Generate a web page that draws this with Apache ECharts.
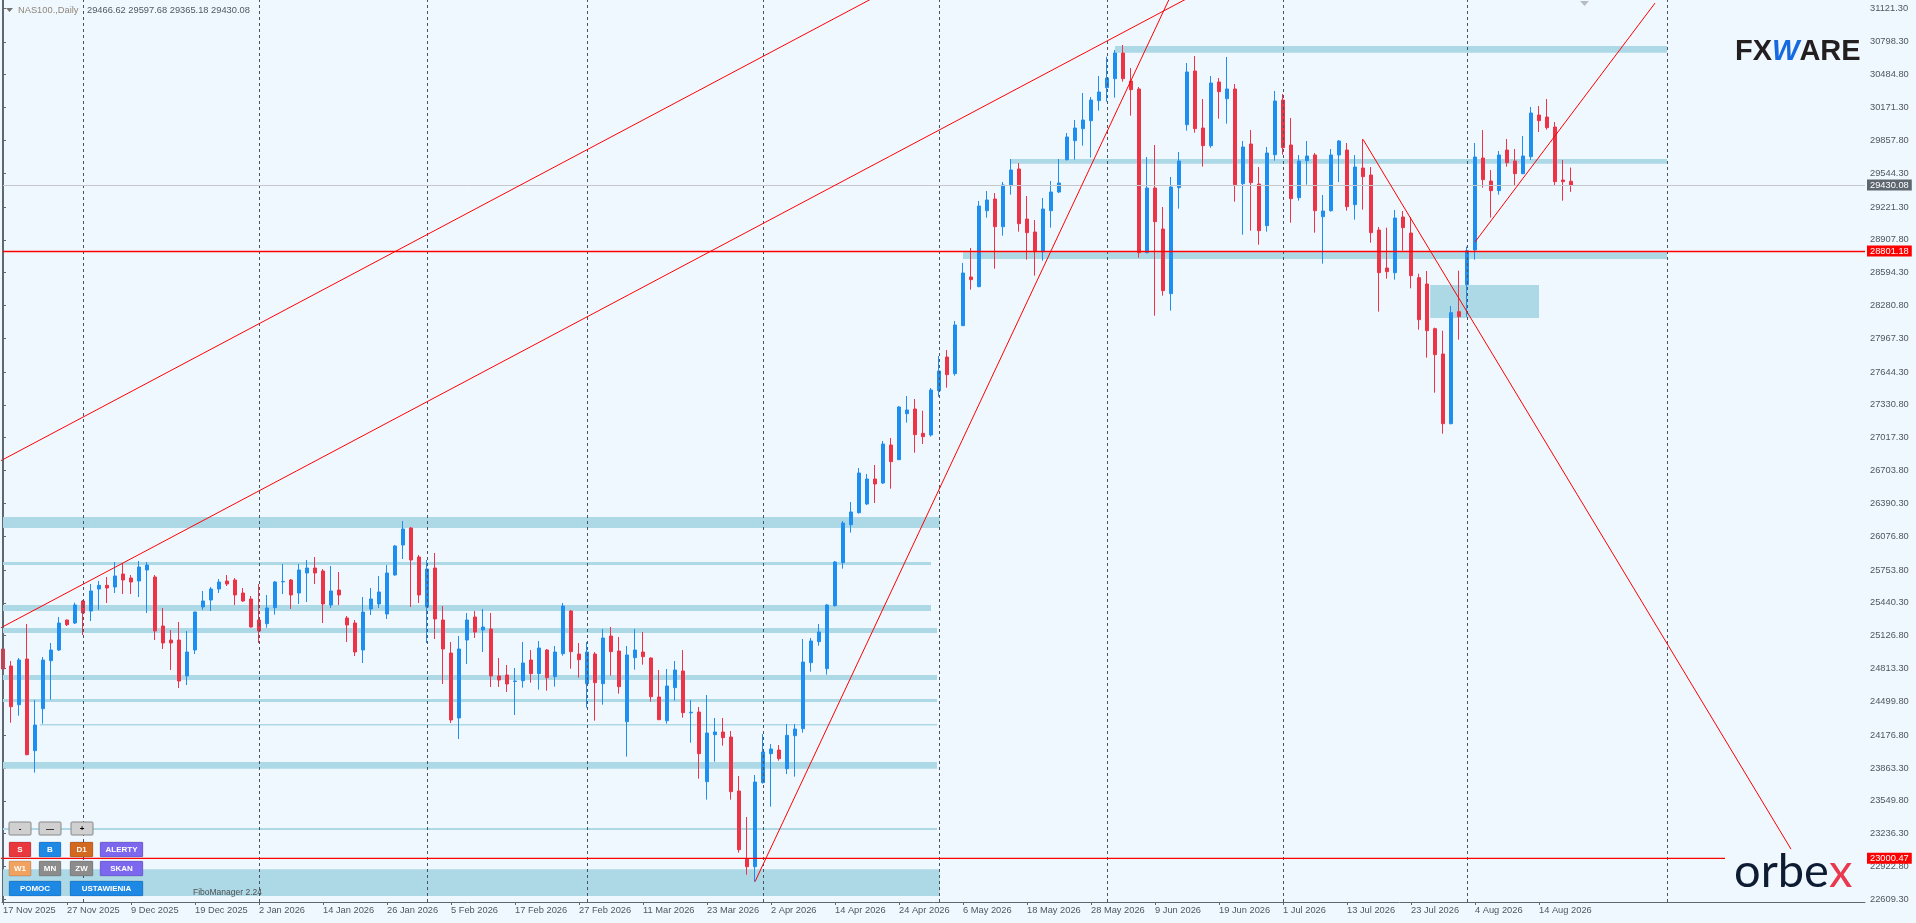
<!DOCTYPE html>
<html><head><meta charset="utf-8">
<script src="https://cdn.jsdelivr.net/npm/echarts@6/dist/echarts.min.js"></script>
<style>html,body{margin:0;padding:0;background:#f0f8ff;}#c{width:1916px;height:923px;}</style>
</head><body><div id="c"></div>
<script>
// ---- data (bar index = trading day from 17 Nov 2025) ----
const openP = [
24999.8,24837.4,24468,24904,24028.8,24429.9,24888.3,24990.2,25276.7,25248,
25458.2,25362.7,25572.7,25607.8,25591.9,25716,25677.8,25649.2,25754.2,25687.4,
25219.4,25085.7,25085.7,24741.9,24990.2,25400.9,25467.7,25572.7,25649.2,25658.7,
25534.6,25477.3,25276.7,25241.7,25394.5,25641,25658.7,25534.6,25725.6,25773.3,
25744.7,25420,25563.2,25295.8,25248,24990.2,25381.8,25429.5,25334,25706.5,
25993,26155.3,25878.3,25400.9,25773.3,25276.7,24961.6,24340.8,25085.7,25305.4,
25181.2,25190.8,24741.9,24751.5,24690,24697.3,24894.7,24764.2,24990.2,24735.5,
24955.2,25362.7,24952,24668.7,24952,24668.7,25123.9,24980.7,24305.8,24917,
24971.1,24913.8,24541.4,24315.4,24630.5,24789.6,24390,24398,23732.8,24181.6,
24207.1,24159.3,23643.7,22997.4,22921,23723.2,24000.2,24035.2,23857,24172,
24238.9,24869.2,25069.8,24811.9,25413.6,25824.2,26187.1,26301.7,26384.5,26623.2,
26585,26948,26807.9,27247.2,27291.8,27059.4,27043.5,27466.8,27788.3,27629.2,
28087.6,28552.4,28460,29185.8,29297.2,29033,29424.6,29583.8,29106.2,28982.1,
28794.3,29185.8,29364.1,29672.9,29854.3,29968.9,30045.3,30236.3,30360.5,30446.4,
30691.5,30424.2,30347.8,28784.7,29402.3,29010.7,28393.2,29405.5,30007.1,30519.7,
29975.3,29806.6,30414.6,30255.4,30347.8,29443.7,29822.5,29440.5,29042.6,29720.7,
30242.7,29813,29310,29663.4,29717.5,29128.5,29185.8,29717.5,29765.2,29243.1,
29593.3,29526.4,29001.2,28638.3,28593.8,29125.4,28972.5,28546,28485.5,28058.9,
27817,27151.7,28221.3,28479.1,28810.2,29688.8,29469.1,29376.8,29765.2,29660.1,
29539.1,29701.5,30099.5,30080.4,29984.9,29478.7,29466.62];
const closeP = [
24808.7,24449,24894.7,23990.7,24274,24894.7,24990.2,25248,25232,25420,
25343.6,25553.7,25607.8,25582.3,25696.9,25658.7,25639.6,25782.8,25802,25171.7,
25057,25057,24694.1,24971.1,25353.1,25458.2,25572.7,25639.6,25620.5,25515.5,
25458.2,25209.9,25171.7,25391.3,25639.6,25645,25515.4,25754.2,25773.3,25725.6,
25429.5,25553.7,25515.4,25229,24971.1,25353.1,25477.3,25544.1,25725.6,25983.4,
26145.8,25849.7,25515.4,25763.8,25286.3,24999.8,24321.7,24999.8,25276.7,25162.1,
25209.9,24741.9,24703.7,24665.5,24694,24866.1,24764.2,25009.3,24726,24971.1,
25410.4,24974.3,24897.9,24971.1,24678.2,25104.8,24974.3,24640,24942.5,24990.2,
24926.6,24544.5,24324.9,24646.4,24799.2,24391.7,24396,24000.2,24197.6,24207.1,
24153,23637.3,23083.4,22921,23729.6,24016.1,24044.8,23952.5,24175.3,24235.7,
24875.6,25076.2,25162.1,25419.9,25830.6,26203.1,26308.1,26680.6,26623.2,26575.5,
26957.5,26788.8,27310.9,27282.2,27046.6,27027.6,27473.2,27654.6,27619.6,28094,
28590.6,28527,29230.4,29287.7,29033,29431,29574.2,29061.7,28975.7,28794.3,
29201.8,29364.1,29450,29889.4,29975.3,30051.7,30242.7,30319.1,30452.8,30691.5,
30446.4,30341.4,28784.7,29402.3,29080.8,28421.8,29411.9,29660.1,30510.1,29968.9,
29806.6,30405,30322.3,30347.8,29434.1,29793.9,29453.2,28994.8,29736.6,30233.2,
29787.5,29300.5,29660.1,29707.9,29185.8,29182.6,29717.5,29851.2,29224.1,29602.8,
29510.5,28975.7,28593.8,28603.3,29115.8,29023.5,28565.1,28144.9,28039.8,27810.6,
27151.7,28211.7,28173.6,28803.9,29698.3,29481.9,29376.8,29717.5,29644.2,29539.1,
29707.9,30118.5,30045.3,29978.5,29462.8,29462.8,29430.08];
const lowP = [
24649.6,24296,24363,23985,23818.7,24286.7,24515.9,24980.6,25219.4,25238.5,
25133.5,25267.2,25372.2,25439,25534.6,25525,25525,25496.4,25343.6,25085.7,
25000,24799.2,24627.3,24656,24952,25372.2,25362.7,25534.6,25601.4,25420,
25448.6,25205,25057,25203.5,25327.6,25525,25381.8,25429.5,25448.6,25620.5,
25248,25391.3,25420,25066.6,24932.9,24866,25324.4,25391.3,25286.3,25700,
25859.2,25400.9,25439,25057,25095.2,24665.5,24293.1,24140.3,24856.5,25104.8,
24971.1,24636.9,24636.9,24589,24369.5,24630.5,24678.2,24611.4,24601.8,24640,
24936,24811.9,24726,24439.5,24315.4,24468.1,24745.1,24573.2,23971.5,24802.4,
24850.1,24496.8,24320,24286.7,24506.3,24344,24105,23761.4,23560.9,23923.8,
24076.6,23560.9,23054.8,22844.6,22777.8,23715,23494,23933.4,23806,23780.6,
24200.8,24783.3,25031.6,24754.7,25404,25767,26110.7,26292,26375,26394,
26575.5,26531,26805,27161.2,26874.7,26957.5,27027.6,27409.5,27495.5,27610.1,
28085,28431.4,28455,29118.9,28632,28947,29338.6,28985.3,28717.9,28565.1,
28708.3,29023.5,29354.5,29665,29672.9,29806.6,29692,30140.8,30226.8,30265,
30417.8,30093.1,28737,28780,28183,28374,28230.9,29205,29949.9,29930.7,
29606,29787.5,30064.4,30016.7,29271.8,28956.7,28994.8,28861,28985.3,29663.4,
29720.7,29071.2,29281.4,29434.1,28975.7,28679.7,29176.3,29459.6,29185.8,29099.9,
29195.4,28880.2,28221.3,28536.4,28526.9,28803.9,28444.2,28049.4,27782,27447.7,
27056.2,27145,27953.9,28173.6,28717.9,29405.5,29119,29338.6,29606,29424.6,
29535,29669.7,29937.1,29959.4,29424.6,29281.4,29365.18];
const highP = [
25276.7,24885,24913.8,25238.5,24512.7,24923.4,25057,25305.4,25280,25442.2,
25467.7,25620.5,25649.2,25687.4,25830.6,25821,25706.5,25840.2,25830.6,25706.5,
25391.3,25181.2,25257.6,25171.7,25356,25553.7,25591.9,25668.3,25706.5,25677.8,
25582.3,25505.9,25620.5,25515.4,25649.2,25811.5,25668.3,25811.5,25849.7,25878.3,
25763.8,25792.4,25735.1,25314.9,25276.7,25496.4,25582.3,25696.9,25802,25993,
26222.2,26164.9,25897.5,25849.7,25916.6,25410.4,25066.6,25123.9,25343.6,25362.7,
25381.8,25343.6,24913.8,24847,24818.3,25066.6,24990.2,25076.2,24999.8,25028.4,
25439,25372.2,25057,25066.6,24971.1,25190.8,25209.9,25114.4,25028.4,25190.8,
25162.1,24920,24799.2,24808.8,24885.2,24990.2,24512.7,24445.8,24560.5,24340.8,
24340.8,24216.6,23786.9,23395.4,23796.4,24188.1,24092.5,24083,24283.5,24283.5,
25095.2,25104.8,25238.5,25429.5,25840.2,26222.2,26403.6,26728.3,26671,26757,
26986.2,27014.8,27320.4,27415.9,27387.3,27275.9,27492.3,27797.9,27855.2,28132.2,
28686.1,28829.3,29278.1,29373.7,29354.5,29459.6,29679.2,29641,29325.9,29096.7,
29306.8,29469.1,29679.2,29927.5,30051.7,30309.5,30271.4,30471.9,30656.5,30720.2,
30768,30548.3,30366.9,29698.3,29812.9,29220.9,29507.4,29746.1,30596.1,30662.9,
30252.2,30471.9,30452.8,30653.4,30395.5,29851.2,29956.2,29602.8,29793.9,30328.6,
30300,30070.8,29717.5,29851.2,29736.6,29335.4,29774.8,29860.7,29832.1,29717.5,
29870.3,29602.8,29029.9,29023.5,29192.2,29182.6,29125.4,28584.2,28609.6,28068.5,
28039.8,28275.4,28612.8,28842,29832.1,29956.2,29574.2,29755.7,29870.3,29774.8,
29898.9,30175.8,30185.4,30252.3,30032.6,29669.7,29597.68];

// x-axis tick labels (one every 8 bars)
const dateLabels = ['17 Nov 2025','27 Nov 2025','9 Dec 2025','19 Dec 2025','2 Jan 2026','14 Jan 2026','26 Jan 2026','5 Feb 2026','17 Feb 2026','27 Feb 2026','11 Mar 2026','23 Mar 2026','2 Apr 2026','14 Apr 2026','24 Apr 2026','6 May 2026','18 May 2026','28 May 2026','9 Jun 2026','19 Jun 2026','1 Jul 2026','13 Jul 2026','23 Jul 2026','4 Aug 2026','14 Aug 2026'];
const dateBars = dateLabels.map((_, k) => k * 8);
// month separators (bar index)
const monthBars = [10, 32, 53, 73, 95, 117, 138, 160, 183, 208];
// y-axis tick labels
const priceTicks = [31121.3,30798.3,30484.8,30171.3,29857.8,29544.3,29221.3,28907.8,28594.3,28280.8,27967.3,27644.3,27330.8,27017.3,26703.8,26390.3,26076.8,25753.8,25440.3,25126.8,24813.3,24499.8,24176.8,23863.3,23549.8,23236.3,22922.8,22609.3];

// support/resistance zones: [barFrom, barTo, priceLow, priceHigh]
const zones = [
  [-1, 117.1, 26155.3, 26260.3],
  [-1, 116, 25802, 25830.6],
  [-1, 116, 25362.7, 25420],
  [-1, 116.75, 25152.6, 25200.3],
  [-1, 116.75, 24703.7, 24751.5],
  [-1, 116.75, 24493.6, 24522.3],
  [4.6, 116.75, 24277, 24283.5],
  [-1, 116.75, 23855, 23920.6],
  [-1, 116.75, 23271.2, 23290.3],
  [-1, 117.1, 22640, 22897],
  [139, 208, 30694.4, 30758.4],
  [126, 208, 29634.4, 29679.2],
  [120, 208, 28724.3, 28788.2],
  [178.4, 192, 28161, 28476]
];
// trend lines: [bar, price] endpoints
const trendA = [[-1, 26768.5], [150, 32888.5]];
const trendB = [[-1, 25172.5], [150, 31292.5]];
const trendC = [[94, 22777.8], [146.5, 31324.8]];
const trendD = [[170, 29867], [223.5, 23088.6]];
const trendE = [[184, 28886.6], [206.5, 31168]];
const level23000 = [[-1, 23000.47], [215.25, 23000.47]];
const lastPrice = 29430.08, redLevel = 28801.18, lowLevel = 23000.47;

const candleData = openP.map((o, i) => [i, o, closeP[i], lowP[i], highP[i]]);

const FONT = 'Liberation Sans';
const UP = '#1e8ff0', DN = '#ee3347', ZONE = '#add8e6', AX = '#5f6770';

function trend(d) {
  return {type: 'line', data: d, symbol: 'none', silent: true, z: 6, clip: true,
    lineStyle: {color: '#ff0000', width: 1}, animation: false};
}
function btn(x, y, w, h, text, fill, color, stroke) {
  return [
    {type: 'rect', shape: {x, y, width: w, height: h, r: 1}, style: {fill, stroke: stroke || 'rgba(0,0,0,0.15)', lineWidth: 1}, z: 100},
    {type: 'text', style: {x: x + w / 2, y: y + h / 2 + 0.5, text, fill: color || '#fff', font: 'bold 8px ' + FONT, align: 'center', verticalAlign: 'middle'}, z: 101}
  ];
}

const graphics = [
  {type: 'line', shape: {x1: 2.5, y1: 0, x2: 2.5, y2: 902}, style: {stroke: AX, lineWidth: 1}, z: 50},
  {type: 'polygon', shape: {points: [[6, 8], [13, 8], [9.5, 12]]}, style: {fill: '#707070'}, z: 100},
  {type: 'text', style: {x: 18, y: 10.5, text: 'NAS100.,Daily', fill: '#8e8778', font: '9.3px ' + FONT, verticalAlign: 'middle'}, z: 100},
  {type: 'text', style: {x: 87, y: 10.5, text: '29466.62 29597.68 29365.18 29430.08', fill: '#505860', font: '9.3px ' + FONT, verticalAlign: 'middle'}, z: 100},
  {type: 'polygon', shape: {points: [[1580, 1], [1589, 1], [1584.5, 6]]}, style: {fill: '#b8bcc0'}, z: 100},
  {type: 'text', style: {x: 1735, y: 52, text: '{a|FX}{b|W}{a|ARE}', font: 'bold 29px ' + FONT, verticalAlign: 'middle',
    rich: {a: {fill: '#231f20', font: 'bold 29px ' + FONT}, b: {fill: '#1769e0', font: 'bold italic 29px ' + FONT}}}, z: 100},
  {type: 'text', style: {x: 1734, y: 872, text: '{a|orbe}{b|x}', font: '47px Lato', verticalAlign: 'middle',
    rich: {a: {fill: '#0e1c33', font: '47px Lato'}, b: {fill: '#e8394e', font: '47px Lato'}}}, z: 100},
  {type: 'text', style: {x: 193, y: 893, text: 'FiboManager 2.24', fill: '#505050', font: '8.5px ' + FONT, verticalAlign: 'middle'}, z: 100}
];
[
  [9, 822, 22, 13, '-', '#d0d0d0', '#000', '#888'], [39, 822, 22, 13, '\u2014', '#d0d0d0', '#000', '#888'], [71, 822, 22, 13, '+', '#d0d0d0', '#000', '#888'],
  [9, 842, 22, 15, 'S', '#e8383d'], [39, 842, 22, 15, 'B', '#1e88e5'], [70, 842, 23, 15, 'D1', '#d2691e'], [100, 842, 43, 15, 'ALERTY', '#7b68ee'],
  [9, 861, 22, 15, 'W1', '#f0a25e'], [39, 861, 22, 15, 'MN', '#8c8c8c'], [70, 861, 23, 15, 'ZW', '#8c8c8c'], [100, 861, 43, 15, 'SKAN', '#7b68ee'],
  [9, 881, 52, 15, 'POMOC', '#1e88e5'], [70, 881, 73, 15, 'USTAWIENIA', '#1e88e5']
].forEach(b => graphics.push(...btn(...b)));

function priceLabel(bg) {
  return {show: true, position: 'end', distance: 2, color: '#fff', backgroundColor: bg,
    padding: [1, 3, 0, 3], fontSize: 9.3, fontFamily: FONT, lineHeight: 10,
    formatter: p => p.value.toFixed(2)};
}

const option = {
  animation: false,
  backgroundColor: '#f0f8ff',
  grid: {left: 2, right: 51, top: 0, bottom: 21, containLabel: false},
  xAxis: {
    type: 'value', min: -0.125, max: 232.75,
    axisLine: {show: true, lineStyle: {color: AX}},
    axisTick: {show: true, customValues: dateBars, length: 3, lineStyle: {color: AX}},
    axisLabel: {customValues: dateBars, formatter: v => dateLabels[dateBars.indexOf(Math.round(v))] || '',
      align: 'left', margin: 4, color: '#4f565e', fontSize: 9.3, fontFamily: FONT},
    splitLine: {show: false}
  },
  yAxis: {
    type: 'value', position: 'right', min: 22583.6, max: 31197.7, scale: true,
    axisLine: {show: true, lineStyle: {color: AX}},
    axisTick: {show: true, customValues: priceTicks, length: 3, lineStyle: {color: AX}},
    axisLabel: {customValues: priceTicks, formatter: v => v.toFixed(2), margin: 5, align: 'left',
      color: '#4f565e', fontSize: 9.3, fontFamily: FONT},
    splitLine: {show: false}
  },
  graphic: graphics,
  series: [
    {
      type: 'custom', z: 1, silent: true, data: zones, encode: {x: [0, 1], y: [2, 3]},
      renderItem: (params, api) => {
        const p0 = api.coord([api.value(0), api.value(3)]);
        const p1 = api.coord([api.value(1), api.value(2)]);
        const cs = params.coordSys;
        const r = echarts.graphic.clipRectByRect(
          {x: p0[0], y: p0[1], width: p1[0] - p0[0], height: Math.max(1.5, p1[1] - p0[1])},
          {x: cs.x, y: cs.y, width: cs.width, height: cs.height});
        return r && {type: 'rect', shape: r, style: {fill: ZONE}};
      }
    },
    {
      type: 'line', data: [], z: 2, silent: true,
      markLine: {silent: true, symbol: ['none', 'none'], animation: false,
        lineStyle: {type: [3, 3], color: '#4a525c', width: 1}, label: {show: false},
        data: monthBars.map(v => ({xAxis: v}))}
    },
    {
      type: 'line', data: [], z: 3, silent: true,
      markLine: {silent: true, symbol: ['none', 'none'], animation: false, precision: 2,
        data: [
          {yAxis: lastPrice, lineStyle: {color: '#c4c8cc', width: 1, type: 'solid'}, label: priceLabel('#5e6770')},
          {yAxis: redLevel, lineStyle: {color: '#ff0000', width: 1.3, type: 'solid'}, label: priceLabel('#ff0000')},
          {yAxis: lowLevel, lineStyle: {color: 'rgba(0,0,0,0)', width: 0.01, type: 'solid'}, label: priceLabel('#ff0000')}
        ]}
    },
    {
      type: 'candlestick', data: candleData, barWidth: 4, z: 4, silent: true, clip: true,
      itemStyle: {color: UP, color0: DN, borderColor: UP, borderColor0: DN, borderWidth: 1}
    },
    Object.assign(trend(level23000), {lineStyle: {color: '#ff0000', width: 1.3}}),
    trend(trendA), trend(trendB), trend(trendC), trend(trendD), trend(trendE)
  ]
};
const chart = echarts.init(document.getElementById('c'));
chart.setOption(option);
</script>
</body></html>
